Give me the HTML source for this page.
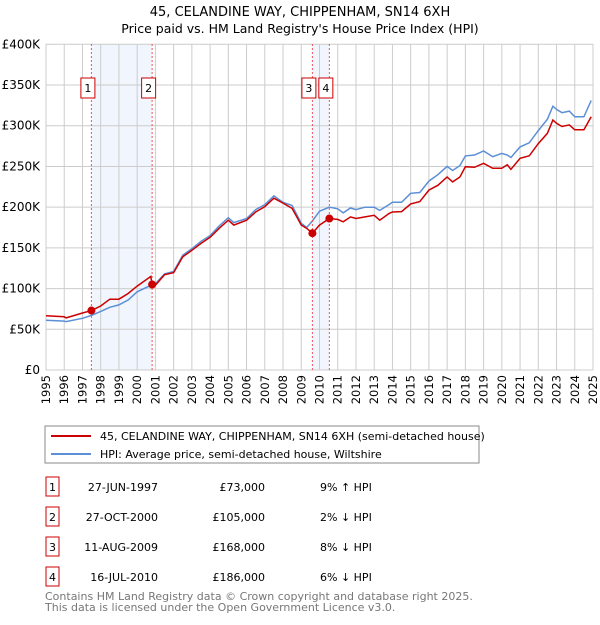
<!DOCTYPE html>
<html><head><meta charset="utf-8"><style>
body{margin:0;background:#fff;font-family:"Liberation Sans","DejaVu Sans",sans-serif;}
svg text{font-family:"DejaVu Sans","Liberation Sans",sans-serif;}
</style></head><body>
<svg id="c" width="600" height="620" xmlns="http://www.w3.org/2000/svg">
<text x="300" y="16" text-anchor="middle" font-size="13">45, CELANDINE WAY, CHIPPENHAM, SN14 6XH</text>
<text x="300" y="33" text-anchor="middle" font-size="12.5">Price paid vs. HM Land Registry's House Price Index (HPI)</text>
<g id="grid"></g><g id="marks"></g>
<rect x="45" y="426" width="434" height="37" fill="#fff" stroke="#888"/>
<line x1="51" y1="436" x2="91" y2="436" stroke="#cc0000" stroke-width="2"/>
<text x="100" y="440" font-size="11">45, CELANDINE WAY, CHIPPENHAM, SN14 6XH (semi-detached house)</text>
<line x1="51" y1="454" x2="91" y2="454" stroke="#5b8fd6" stroke-width="2"/>
<text x="100" y="458" font-size="11">HPI: Average price, semi-detached house, Wiltshire</text>
<g id="table" font-size="11"></g>
<text x="45" y="600" font-size="11" fill="#777">Contains HM Land Registry data © Crown copyright and database right 2025.</text>
<text x="45" y="611" font-size="11" fill="#777">This data is licensed under the Open Government Licence v3.0.</text>
</svg>
<script>
const redT=[1995,1996,1996.1,1997,1997.49,1998,1998.5,1999,1999.5,2000,2000.75,2000.82,2001,2001.5,2002,2002.5,2003,2003.5,2004,2004.5,2005,2005.3,2006,2006.5,2007,2007.5,2008,2008.5,2009,2009.3,2009.61,2010,2010.54,2011,2011.3,2011.7,2012,2012.5,2013,2013.3,2013.8,2014,2014.5,2015,2015.5,2016,2016.5,2017,2017.3,2017.7,2018,2018.5,2019,2019.5,2020,2020.3,2020.5,2021,2021.5,2022,2022.5,2022.8,2023,2023.3,2023.7,2024,2024.5,2024.9];
const redV=[66.7,65.5,64,70,73,78.6,87,87,94,103,115,105,104,117,119.5,139,147,155.5,163,174,184,178,184,194,200.6,211,205,198.5,178,174,168,178,186,185,182,188,186,188,190,184,192,194,194.5,204,206.8,221,227,237,231,237,249.7,249,253.8,247.7,247.7,252,246.5,260,263,278,290.7,307,303,299,301,295,295,311];
const hpiV=[61,60,59.5,63.5,67,72,77,80,86,96,104,105,106,118,121,141,149,158,165,177,187,181,186,197,203,214,206,202,180,175,183,195,200,198,193,199,197,200,200,196,203,206,206,217,218,232,240,250,245,251,263,264,269,262,266,264,261,274,279,294,308,324,320,316,318,311,311,331];
const yTicks=[0,50,100,150,200,250,300,350,400];
const yLabels=["£0","£50K","£100K","£150K","£200K","£250K","£300K","£350K","£400K"];
const saleIds=["1","2","3","4"];
const saleT=[1997.49,2000.82,2009.61,2010.54];
const saleV=[73,105,168,186];
const saleDate=["27-JUN-1997","27-OCT-2000","11-AUG-2009","16-JUL-2010"];
const salePrice=["£73,000","£105,000","£168,000","£186,000"];
const saleHpi=["9% ↑ HPI","2% ↓ HPI","8% ↓ HPI","6% ↓ HPI"];
const NS="http://www.w3.org/2000/svg";
const X=t=>46+(t-1995)*(593-46)/30, Y=v=>370-v*(370-44.3)/400;
function mk(tag,a,p){const e=document.createElementNS(NS,tag);for(const k in a)e.setAttribute(k,a[k]);p.appendChild(e);return e;}
const g=document.getElementById('grid'),m=document.getElementById('marks'),tb=document.getElementById('table');
for(let i=0;i<2;i++){const r=mk('rect',{x:X(saleT[i*2]),y:44,width:X(saleT[i*2+1])-X(saleT[i*2]),height:326,fill:'#eef3fc',opacity:0.8},g);

}
for(let y=1995;y<=2025;y++){const l=mk('line',{x1:X(y),x2:X(y),y1:44,y2:370,stroke:'#ccc'},g);


const t=mk('text',{x:0,y:0,'font-size':11.5,'text-anchor':'end',transform:`translate(${X(y)+4},375) rotate(-90)`},g);t.textContent=y;

}
yTicks.forEach((v,i)=>{const l=mk('line',{x1:46,x2:593,y1:Y(v),y2:Y(v),stroke:'#ccc'},g);


const t=mk('text',{x:40,y:Y(v)+4,'font-size':12,'text-anchor':'end'},g);t.textContent=yLabels[i];

});
const pts=v=>redT.map((t,i)=>X(t).toFixed(1)+','+Y(v[i]).toFixed(1)).join(' ');
const hp=mk('polyline',{points:pts(hpiV),fill:'none',stroke:'#5b8fd6','stroke-width':1.5},m);


const rp=mk('polyline',{points:pts(redV),fill:'none',stroke:'#cc0000','stroke-width':1.5},m);


saleT.forEach((t,i)=>{
const l=mk('line',{x1:X(t),x2:X(t),y1:44,y2:370,stroke:'#e55','stroke-dasharray':'2,2'},m);


const c=mk('circle',{cx:X(t),cy:Y(saleV[i]),r:4,fill:'#cc0000'},m);


const bx=X(t)-3.5;
const r=mk('rect',{x:bx-7,y:78,width:14,height:20,fill:'#fff',stroke:'#cc0000'},m);


const tx=mk('text',{x:bx,y:92,'font-size':11,'text-anchor':'middle'},m);tx.textContent=saleIds[i];


const ry=477+i*30;
const b=mk('rect',{x:46,y:ry,width:13,height:19,fill:'#fff',stroke:'#cc0000'},tb);


const cells=[[52.5,saleIds[i],'middle'],[158,saleDate[i],'end'],[265,salePrice[i],'end'],[320,saleHpi[i],'start']];
cells.forEach(([x,s,a])=>{const e=mk('text',{x:x,y:ry+14,'text-anchor':a},tb);e.textContent=s;

});
});
</script>
</body></html>
